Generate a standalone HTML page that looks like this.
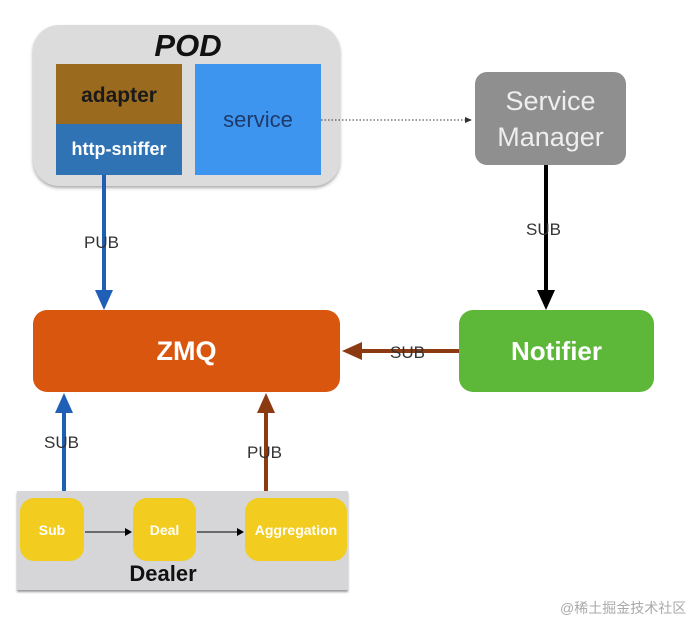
<!DOCTYPE html>
<html><head><style>
body{margin:0;width:695px;height:623px;background:#fff;position:relative;overflow:hidden;font-family:"Liberation Sans",sans-serif}
div{position:absolute;box-sizing:border-box}
.c{display:flex;align-items:center;justify-content:center;text-align:center}
.t{color:#333;font-size:17px}
</style></head><body>
<div style="left:33px;top:25px;width:307px;height:161px;background:#dcdcdc;border-radius:26px;box-shadow:0 2px 3px #aaa"></div>
<div class="c" style="left:138px;top:28px;width:100px;height:36px;font:italic bold 31px 'Liberation Sans';color:#111">POD</div>
<div class="c" style="left:56px;top:64px;width:126px;height:60px;padding-top:4px;background:#9a6a1e;font-weight:bold;font-size:21px;color:#1a1a1a">adapter</div>
<div class="c" style="left:56px;top:124px;width:126px;height:51px;background:#2f73b5;font-weight:bold;font-size:18px;color:#fff">http-sniffer</div>
<div class="c" style="left:195px;top:64px;width:126px;height:111px;background:#3d95f0;font-size:22px;color:#1e3a6a">service</div>
<div class="c" style="left:475px;top:72px;width:151px;height:93px;background:#8f8f8f;border-radius:12px;font-size:27px;color:#eee;line-height:36px">Service<br>Manager</div>
<div class="c" style="left:33px;top:310px;width:307px;height:82px;background:#d9560e;border-radius:14px;font-weight:bold;font-size:27px;color:#fff">ZMQ</div>
<div class="c" style="left:459px;top:310px;width:195px;height:82px;background:#5db83a;border-radius:14px;font-weight:bold;font-size:26px;color:#fff">Notifier</div>
<div style="left:17px;top:491px;width:331px;height:99px;background:#d6d6d8;box-shadow:0 2px 2px #999"></div>
<div class="c" style="left:20px;top:498px;width:64px;height:63px;background:#f2cc1f;border-radius:14px;font-weight:bold;font-size:14px;color:#fff">Sub</div>
<div class="c" style="left:133px;top:498px;width:63px;height:63px;background:#f2cc1f;border-radius:14px;font-weight:bold;font-size:14px;color:#fff">Deal</div>
<div class="c" style="left:245px;top:498px;width:102px;height:63px;background:#f2cc1f;border-radius:14px;font-weight:bold;font-size:14px;color:#fff">Aggregation</div>
<div class="c" style="left:98px;top:560px;width:130px;height:28px;font-weight:bold;font-size:22px;color:#111">Dealer</div>
<svg width="695" height="623" style="position:absolute;left:0;top:0">
<line x1="321" y1="120" x2="466" y2="120" stroke="#333" stroke-dasharray="1.5,2" stroke-width="1"/>
<polygon points="472,120 465,117 465,123" fill="#333"/>
<line x1="104" y1="175" x2="104" y2="292" stroke="#1f5fb5" stroke-width="4"/>
<polygon points="104,310 95,290 113,290" fill="#1f5fb5"/>
<line x1="546" y1="165" x2="546" y2="292" stroke="#000" stroke-width="4"/>
<polygon points="546,310 537,290 555,290" fill="#000"/>
<line x1="459" y1="351" x2="360" y2="351" stroke="#8b3a12" stroke-width="4"/>
<polygon points="342,351 362,342 362,360" fill="#8b3a12"/>
<line x1="64" y1="491" x2="64" y2="410" stroke="#1f5fb5" stroke-width="4"/>
<polygon points="64,393 55,413 73,413" fill="#1f5fb5"/>
<line x1="266" y1="491" x2="266" y2="410" stroke="#8b3a12" stroke-width="4"/>
<polygon points="266,393 257,413 275,413" fill="#8b3a12"/>
<line x1="85" y1="532" x2="126" y2="532" stroke="#000" stroke-width="1"/>
<polygon points="132,532 125,528 125,536" fill="#000"/>
<line x1="197" y1="532" x2="238" y2="532" stroke="#000" stroke-width="1"/>
<polygon points="244,532 237,528 237,536" fill="#000"/>
</svg>
<div class="t" style="left:84px;top:233px">PUB</div>
<div class="t" style="left:526px;top:220px">SUB</div>
<div class="t" style="left:390px;top:343px">SUB</div>
<div class="t" style="left:44px;top:433px">SUB</div>
<div class="t" style="left:247px;top:443px">PUB</div>
<div style="left:560px;top:598px;font-size:14px;color:#aaa;font-family:'Liberation Sans','Noto Sans CJK SC',sans-serif">@稀土掘金技术社区</div>
</body></html>
